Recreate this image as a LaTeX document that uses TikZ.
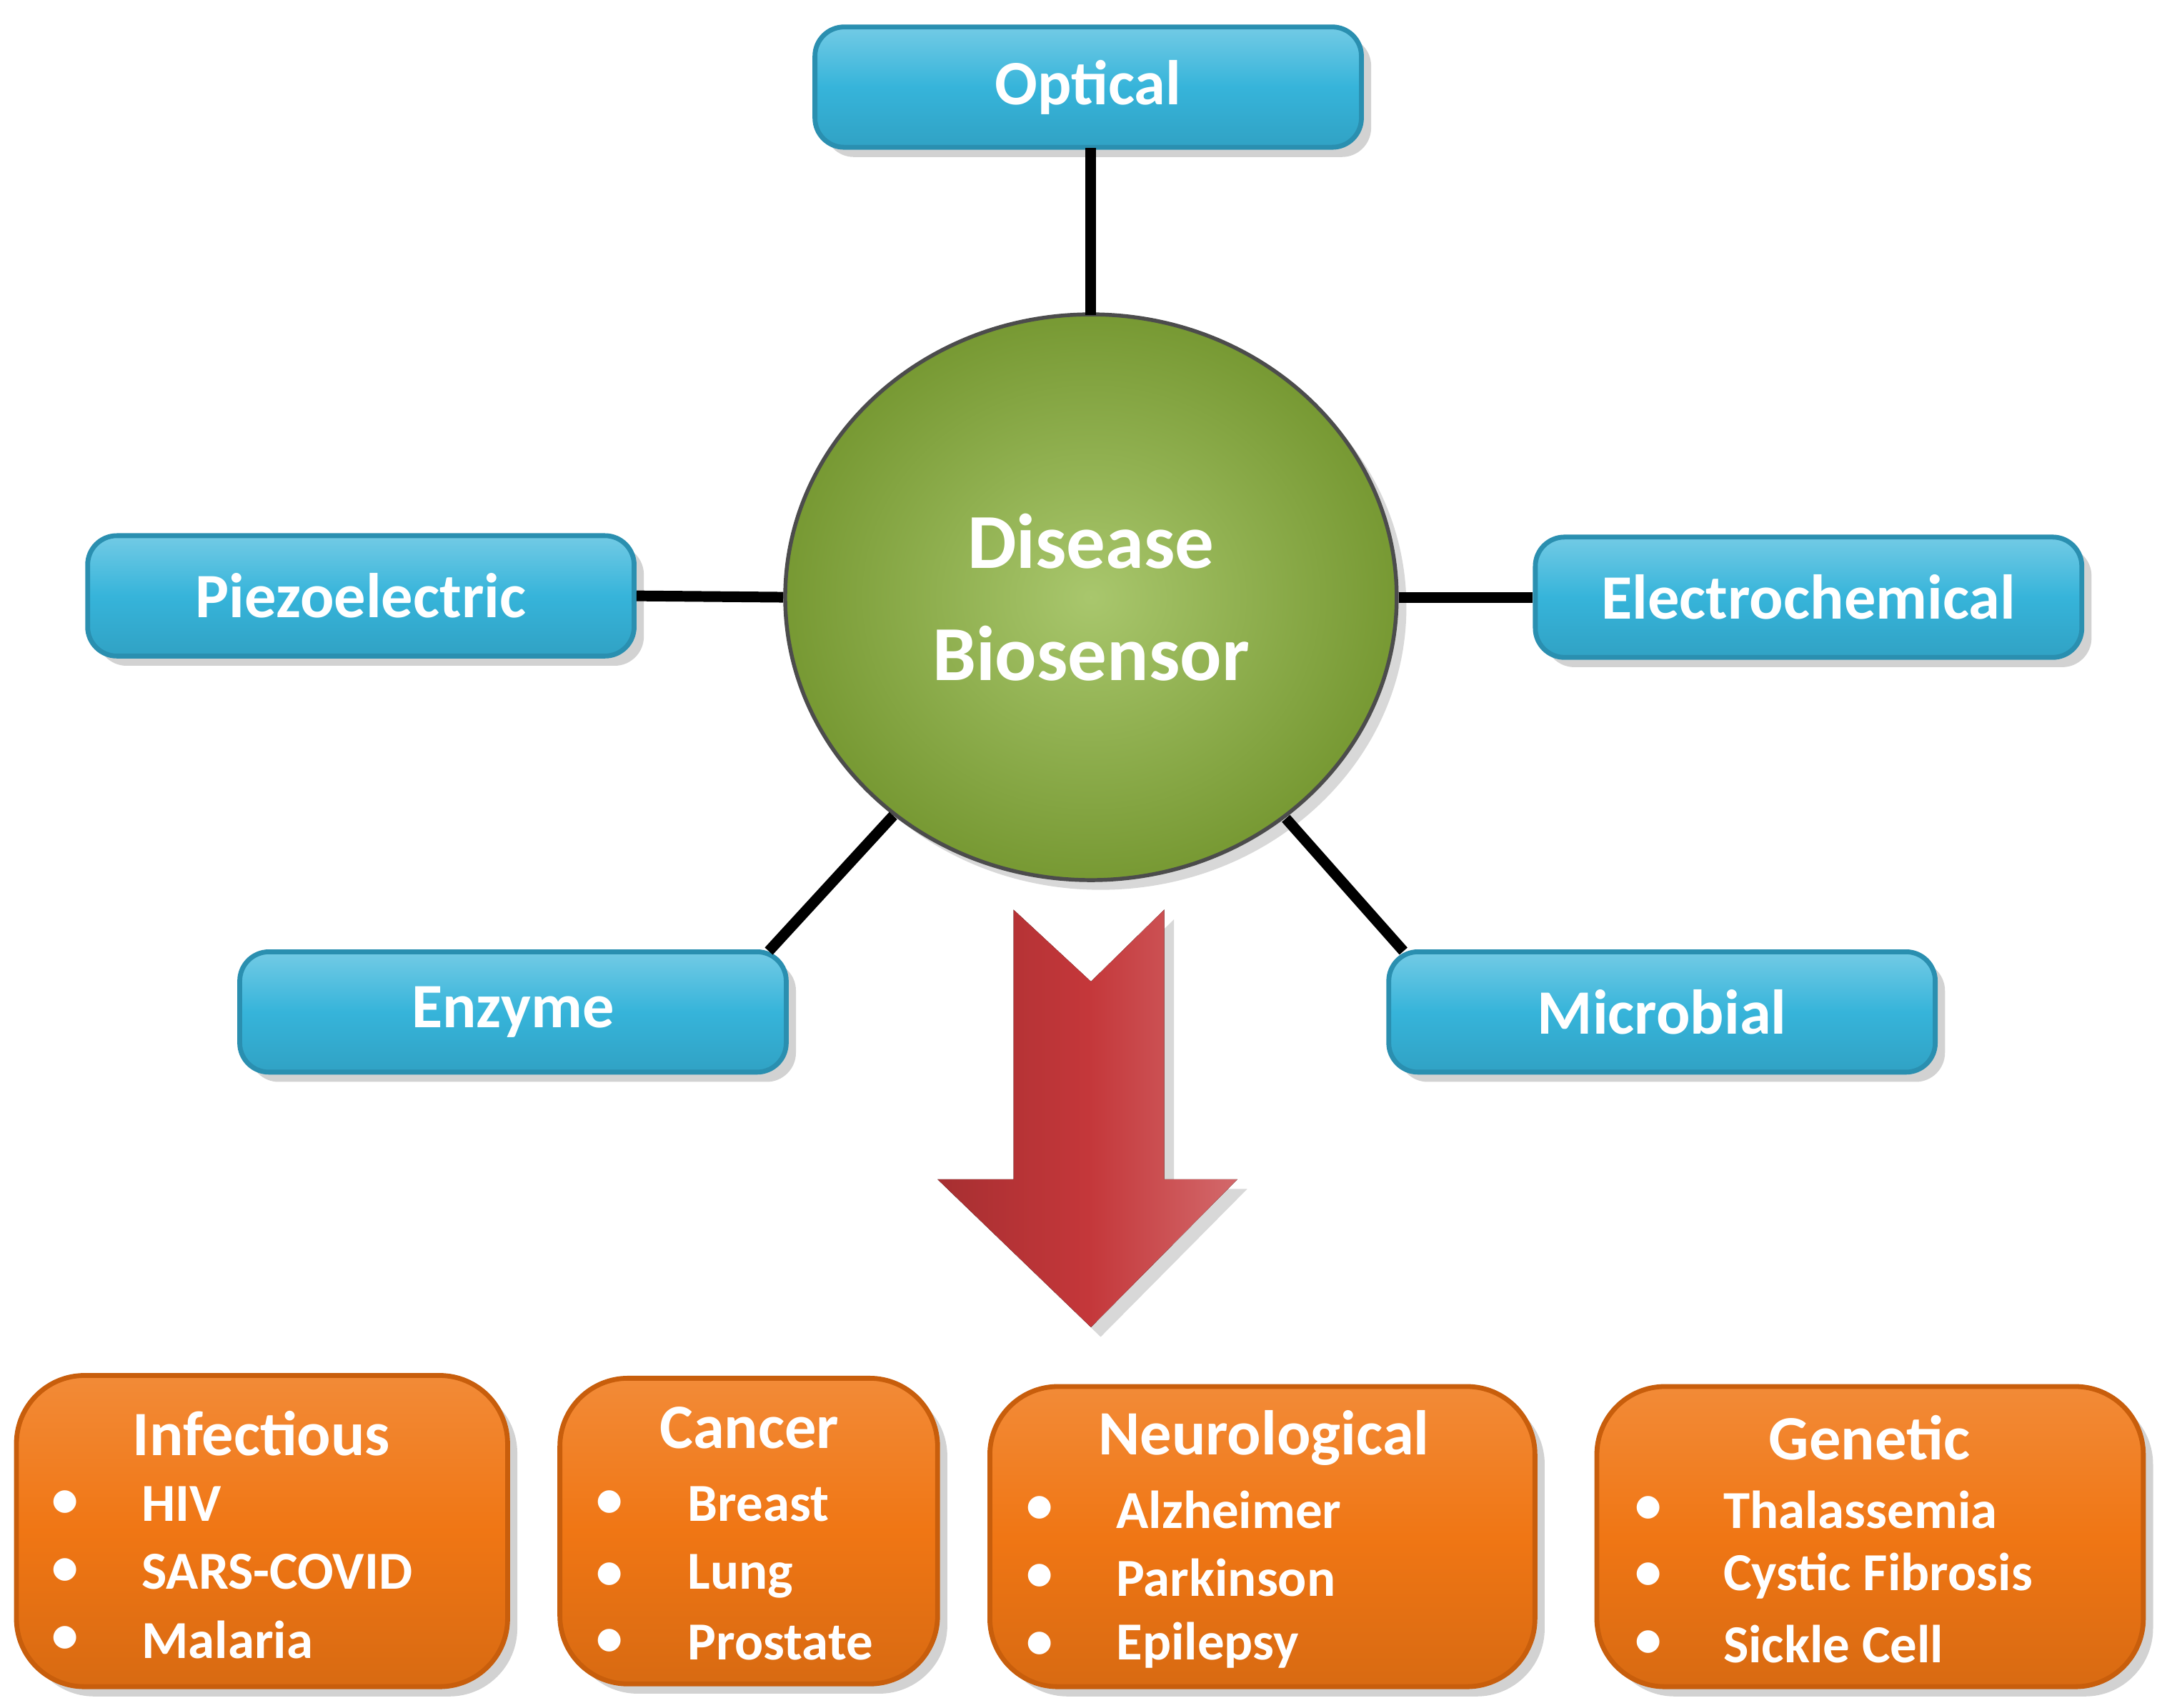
\documentclass[tikz,border=0pt]{standalone}
\usepackage{fontspec}
\setmainfont{Carlito}
\usetikzlibrary{shadows,shapes.geometric}
\definecolor{bluebox}{HTML}{36B4DA}
\definecolor{blueedge}{HTML}{2A8FB0}
\definecolor{orangebox}{HTML}{F07614}
\definecolor{orangeedge}{HTML}{C85E0C}
\definecolor{greenball}{HTML}{8CB43C}
\definecolor{redarrow}{HTML}{C4373A}
\begin{document}
\begin{tikzpicture}[x=0.01cm,y=-0.01cm,
  tech/.style={draw=blueedge,line width=1pt,rounded corners=6pt,
    top color=bluebox!70!white,bottom color=bluebox!90!black,middle color=bluebox,
    minimum width=3.95cm,minimum height=0.87cm,text=white,
    font=\bfseries\fontsize{13pt}{15pt}\selectfont,
    drop shadow={opacity=0.35,shadow xshift=2pt,shadow yshift=-2pt}},
  dis/.style={draw=orangeedge,line width=1pt,rounded corners=14pt,
    top color=orangebox!85!white,bottom color=orangebox!90!black,middle color=orangebox,
    drop shadow={opacity=0.35,shadow xshift=2pt,shadow yshift=-2pt}},
  ttl/.style={text=white,font=\bfseries\fontsize{13pt}{15pt}\selectfont},
  itm/.style={text=white,font=\bfseries\fontsize{11pt}{13pt}\selectfont,anchor=west},
  bul/.style={text=white,font=\bfseries\fontsize{11pt}{13pt}\selectfont},
  conn/.style={line width=2.2pt,black}]
\useasboundingbox[fill=white] (0,0) rectangle (1560,1235);

\node[tech] (opt) at (787,63) {Optical};
\node[tech] (pie) at (261,431) {Piezoelectric};
\node[tech] (ele) at (1308,432) {Electrochemical};
\node[tech] (enz) at (371,732) {Enzyme};
\node[tech] (mic) at (1202,732) {Microbial};

\node[ellipse,minimum width=4.42cm,minimum height=4.09cm,draw=black!70,line width=0.8pt,
  inner color=greenball!75!white,outer color=greenball!85!black,
  drop shadow={opacity=0.3,shadow xshift=2pt,shadow yshift=-2pt},
  text=white,align=center,font=\bfseries\fontsize{16pt}{23pt}\selectfont] (bio) at (789,432) {Disease\\Biosensor};

\coordinate (optB) at (789,107);
\coordinate (bioT) at (789,228);
\draw[conn] (optB) -- (bioT);
\draw[conn] (pie.east) -- (bio.west);
\draw[conn] (bio.east) -- (ele.west);
\coordinate (enzT) at (556,688); \coordinate (bioSW) at (646,590);
\draw[conn] (enzT) -- (bioSW);
\coordinate (micT) at (1015,688); \coordinate (bioSE) at (930,592);
\draw[conn] (bioSE) -- (micT);

\fill[left color=redarrow!85!black,right color=redarrow!75!white,middle color=redarrow,
  drop shadow={opacity=0.3,shadow xshift=2pt,shadow yshift=-2pt}]
  (733,658) -- (789,710) -- (842,658) -- (842,853) -- (895,853) -- (789,960)
  -- (678,853) -- (733,853) -- cycle;

% Infectious
\node[dis,minimum width=3.55cm,minimum height=2.25cm] (inf) at (189.5,1107.5) {};
\node[ttl] (infT) at (189,1037) {Infectious};
\foreach \y/\t [count=\i] in {1088/HIV,1137/SARS-COVID,1186/Malaria}{
  \node[bul] (infb\i) at (47,\y) {•};
  \node[itm] (infi\i) at (90,\y) {\t};}
% Cancer
\node[dis,minimum width=2.73cm,minimum height=2.21cm] (can) at (541.5,1107.5) {};
\node[ttl] (canT) at (542,1033) {Cancer};
\foreach \y/\t [count=\i] in {1088/Breast,1140/Lung,1188/Prostate}{
  \node[bul] (canb\i) at (441,\y) {•};
  \node[itm] (cani\i) at (485,\y) {\t};}
% Neurological
\node[dis,minimum width=3.94cm,minimum height=2.17cm] (neu) at (913,1111.5) {};
\node[ttl] (neuT) at (914,1040) {Neurological};
\foreach \y/\t [count=\i] in {1092/Alzheimer,1141/Parkinson,1190/Epilepsy}{
  \node[bul] (neub\i) at (752,\y) {•};
  \node[itm] (neui\i) at (795,\y) {\t};}
% Genetic
\node[dis,minimum width=3.95cm,minimum height=2.17cm] (gen) at (1352.5,1111.5) {};
\node[ttl] (genT) at (1352,1040) {Genetic};
\foreach \y/\t [count=\i] in {1092/Thalassemia,1140/Cystic Fibrosis,1189/Sickle Cell}{
  \node[bul] (genb\i) at (1192,\y) {•};
  \node[itm] (geni\i) at (1234,\y) {\t};}
\end{tikzpicture}
\end{document}
